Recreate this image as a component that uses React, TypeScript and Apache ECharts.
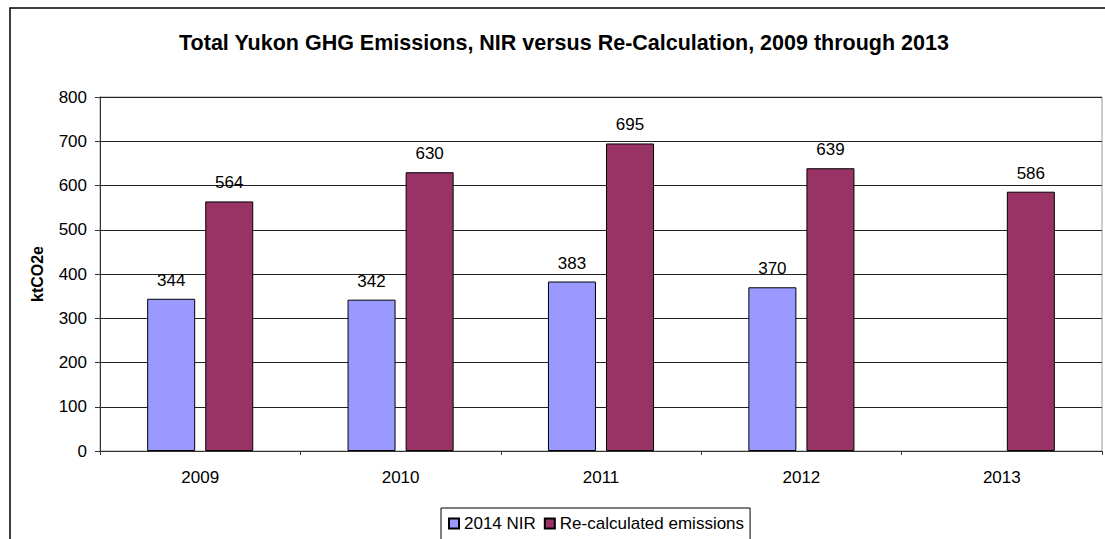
import React, { useEffect, useRef } from "react";
import * as echarts from "echarts";

const categories = ["2009", "2010", "2011", "2012", "2013"];
const nirValues: (number | null)[] = [344, 342, 383, 370, null];
const recalcValues: number[] = [564, 630, 695, 639, 586];
const seriesNames = ["2014 NIR", "Re-calculated emissions"];
const titleText = "Total Yukon GHG Emissions, NIR versus Re-Calculation, 2009 through 2013";
const yAxisName = "ktCO2e";

const FONT = "'Liberation Sans', Arial, sans-serif";

export default function App() {
  const ref = useRef<HTMLDivElement>(null);
  useEffect(() => {
    if (!ref.current) return;
    const chart = echarts.init(ref.current, null, { renderer: "svg" });
    const label = {
      show: true,
      position: "top" as const,
      distance: 10,
      color: "#000",
      fontSize: 17,
      fontFamily: FONT,
    };
    chart.setOption({
      animation: false,
      backgroundColor: "#fff",
      textStyle: { fontFamily: FONT },
      title: {
        text: titleText,
        left: 559,
        textAlign: "center",
        top: 27,
        textStyle: { fontSize: 21.5, fontWeight: "bold", color: "#000", fontFamily: FONT },
      },
      graphic: [
        {
          type: "rect",
          shape: { x: 10, y: 8, width: 1100, height: 540 },
          style: { fill: "none", stroke: "#000", lineWidth: 1.5 },
          silent: true,
        },
        {
          type: "rect",
          shape: { x: 100, y: 97, width: 1002, height: 354 },
          style: { fill: "none", stroke: "#999", lineWidth: 1 },
          silent: true,
          z: 0,
        },
      ],
      grid: { left: 100, right: 3, top: 97, height: 354, containLabel: false },
      legend: {
        data: seriesNames,
        left: 441,
        top: 508,
        orient: "horizontal",
        icon: "rect",
        itemWidth: 10,
        itemHeight: 10,
        itemGap: 8,
        padding: [7, 6, 12, 7],
        borderColor: "#000",
        borderWidth: 1,
        textStyle: { fontSize: 17, color: "#000", fontFamily: FONT },
      },
      xAxis: {
        type: "category",
        data: categories,
        axisLine: { lineStyle: { color: "#333", width: 1 } },
        axisTick: { show: true, length: 4, lineStyle: { color: "#333" } },
        axisLabel: { fontSize: 17, color: "#000", margin: 18, fontFamily: FONT },
      },
      yAxis: {
        type: "value",
        min: 0,
        max: 800,
        interval: 100,
        name: yAxisName,
        nameLocation: "middle",
        nameGap: 55,
        nameRotate: 90,
        nameTextStyle: { fontSize: 16, fontWeight: "bold", color: "#000", fontFamily: FONT },
        axisLine: { show: true, lineStyle: { color: "#333", width: 1 } },
        axisTick: { show: true, length: 5, lineStyle: { color: "#333" } },
        axisLabel: { fontSize: 17, color: "#000", margin: 13, fontFamily: FONT },
        splitLine: { show: true, lineStyle: { color: "#222", width: 1 } },
      },
      series: [
        {
          name: seriesNames[0],
          type: "bar",
          data: nirValues,
          barWidth: 48,
          barGap: "21%",
          itemStyle: { color: "#9999FF", borderColor: "#000", borderWidth: 1 },
          label,
        },
        {
          name: seriesNames[1],
          type: "bar",
          data: recalcValues,
          barWidth: 48,
          barGap: "21%",
          itemStyle: { color: "#993366", borderColor: "#000", borderWidth: 1 },
          label,
        },
      ],
    });
    return () => chart.dispose();
  }, []);
  return (
    <div
      ref={ref}
      style={{ position: "absolute", left: 0, top: 0, width: 1105, height: 539 }}
    />
  );
}
